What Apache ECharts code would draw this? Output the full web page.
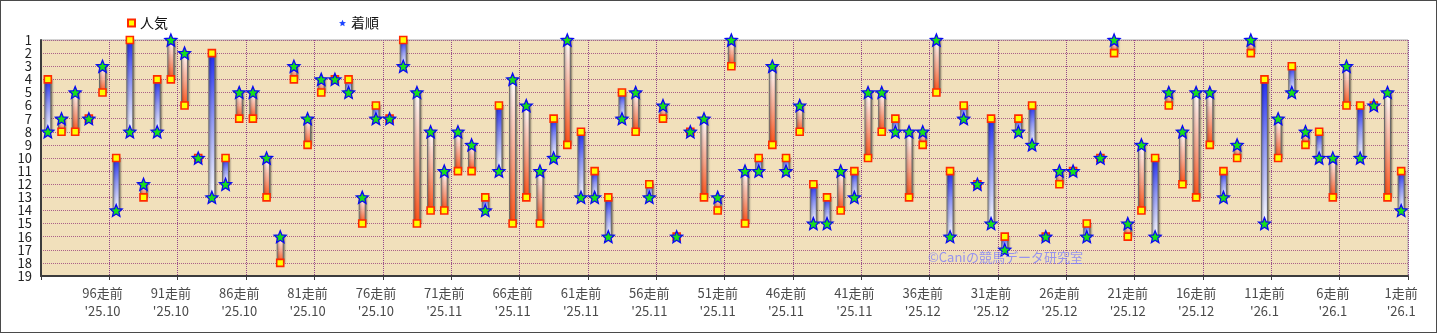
<!DOCTYPE html>
<html>
<head>
<meta charset="utf-8">
<script src="https://cdn.jsdelivr.net/npm/echarts@6/dist/echarts.min.js"></script>
<style>
  html, body { margin: 0; padding: 0; background: #fff; }
  #frame { width: 1437px; height: 333px; box-sizing: border-box; border: 1px solid #4a4a4a; background: #fff; }
  #chart { width: 1435px; height: 331px; }
</style>
</head>
<body>
<div id="frame"><div id="chart"></div></div>
<script>
// Race history: oldest (100走前) on the left, latest (1走前) on the right
const raceCount = 100;
const categories = Array.from({ length: raceCount }, (_, i) => (raceCount - i) + '走前');

// 人気 (popularity rank) per race
const popularity = [
  4, 8, 8, 7, 5, 10, 1, 13, 4, 4,
  6, 10, 2, 10, 7, 7, 13, 18, 4, 9,
  5, 4, 4, 15, 6, 7, 1, 15, 14, 14,
  11, 11, 13, 6, 15, 13, 15, 7, 9, 8,
  11, 13, 5, 8, 12, 7, 16, 8, 13, 14,
  3, 15, 10, 9, 10, 8, 12, 13, 14, 11,
  10, 8, 7, 13, 9, 5, 11, 6, 12, 7,
  16, 7, 6, 16, 12, 11, 15, 10, 2, 16,
  14, 10, 6, 12, 13, 9, 11, 10, 2, 4,
  10, 3, 9, 8, 13, 6, 6, 6, 13, 11
];

// 着順 (finishing position) per race
const finish = [
  8, 7, 5, 7, 3, 14, 8, 12, 8, 1,
  2, 10, 13, 12, 5, 5, 10, 16, 3, 7,
  4, 4, 5, 13, 7, 7, 3, 5, 8, 11,
  8, 9, 14, 11, 4, 6, 11, 10, 1, 13,
  13, 16, 7, 5, 13, 6, 16, 8, 7, 13,
  1, 11, 11, 3, 11, 6, 15, 15, 11, 13,
  5, 5, 8, 8, 8, 1, 16, 7, 12, 15,
  17, 8, 9, 16, 11, 11, 16, 10, 1, 15,
  9, 16, 5, 8, 5, 5, 13, 9, 1, 15,
  7, 5, 8, 10, 10, 3, 10, 6, 5, 14
];

// Month shown under every fifth race label (96走前, 91走前, ... 1走前)
const tickMonths = [
  "'25.10", "'25.10", "'25.10", "'25.10", "'25.10",
  "'25.11", "'25.11", "'25.11", "'25.11", "'25.11",
  "'25.11", "'25.11", "'25.12", "'25.12", "'25.12",
  "'25.12", "'25.12", "'26.1", "'26.1", "'26.1"
];

const FONT = '"Noto Sans CJK JP", "Noto Sans", sans-serif';

// five-pointed star symbol
function starPath() {
  let d = '';
  for (let k = 0; k < 10; k++) {
    const r = k % 2 ? 0.45 : 1;
    const a = -Math.PI / 2 + k * Math.PI / 5;
    d += (k ? 'L' : 'M') + (r * Math.cos(a)).toFixed(4) + ' ' + (r * Math.sin(a)).toFixed(4) + ' ';
  }
  return 'path://' + d + 'Z';
}
const STAR = starPath();

const chart = echarts.init(document.getElementById('chart'), null, { renderer: 'canvas' });

const barData = categories.map((c, i) => [i, popularity[i], finish[i]]);

chart.setOption({
  animation: false,
  textStyle: { fontFamily: FONT },
  legend: [
    {
      data: ['人気'], left: 121, top: 10, itemWidth: 7, itemHeight: 7,
      textStyle: { fontSize: 14, color: '#111', fontFamily: FONT }
    },
    {
      data: [{ name: '着順', icon: STAR, itemStyle: { color: '#1e46ff', borderWidth: 0 } }],
      left: 333, top: 10, itemWidth: 7, itemHeight: 7,
      textStyle: { fontSize: 14, color: '#111', fontFamily: FONT }
    }
  ],
  grid: {
    left: 40, right: 28, top: 39, bottom: 56,
    show: true, backgroundColor: '#f1e0bb', borderColor: '#a8a8a8', borderWidth: 1
  },
  xAxis: {
    type: 'category',
    data: categories,
    boundaryGap: true,
    axisLine: { lineStyle: { color: '#3c3c3c', width: 2 } },
    axisTick: { show: true, interval: (i) => i % 5 === 0, length: 4, lineStyle: { color: '#3c3c3c' } },
    axisLabel: {
      interval: (i) => i % 5 === 4,
      formatter: (v, i) => v + '\n' + tickMonths[Math.floor(i / 5)],
      color: '#4a4a4a', fontSize: 13, lineHeight: 18, margin: 8, fontFamily: FONT
    },
    splitLine: { show: true, interval: (i) => i % 5 === 0, lineStyle: { color: '#93468a', type: 'dotted', width: 1 } }
  },
  yAxis: {
    type: 'value', min: 1, max: 19, interval: 1, inverse: true,
    axisLine: { show: true, lineStyle: { color: '#3c3c3c', width: 2 } },
    axisTick: { show: false },
    axisLabel: { color: '#222', fontSize: 13, margin: 9, fontFamily: FONT },
    splitLine: { show: true, lineStyle: { color: '#ab6088', type: 'dotted', width: 1 } }
  },
  graphic: [
    {
      type: 'text', left: 927, top: 250, z: 100,
      style: { text: '©Caniの競馬データ研究室', fill: 'rgba(120,120,255,0.75)', font: '13px "Noto Sans CJK JP"' }
    }
  ],
  series: [
    {
      // connector between popularity and finish
      type: 'custom',
      name: '差',
      data: barData,
      encode: { x: 0, y: 1 },
      z: 2,
      silent: true,
      renderItem(params, api) {
        const i = api.value(0), p = api.value(1), f = api.value(2);
        if (p === f) return null;
        const a = api.coord([i, p]);
        const b = api.coord([i, f]);
        const top = Math.min(a[1], b[1]);
        const h = Math.abs(a[1] - b[1]);
        const w = 6;
        const fill = p < f
          ? new echarts.graphic.LinearGradient(0, 0, 0, 1, [
              { offset: 0, color: '#1f2af2' }, { offset: 0.45, color: '#8f97f6' }, { offset: 1, color: '#ffffff' }])
          : new echarts.graphic.LinearGradient(0, 0, 0, 1, [
              { offset: 0, color: '#ffffff' }, { offset: 0.55, color: '#f9a58a' }, { offset: 1, color: '#ff4f14' }]);
        return {
          type: 'rect',
          shape: { x: a[0] - w / 2, y: top, width: w, height: h },
          style: {
            fill, stroke: '#6a6a6a', lineWidth: 1,
            shadowBlur: 2, shadowOffsetX: 1, shadowOffsetY: 0, shadowColor: 'rgba(0,0,0,0.45)'
          }
        };
      }
    },
    {
      type: 'scatter',
      name: '人気',
      data: categories.map((c, i) => [i, popularity[i]]),
      symbol: 'rect',
      symbolSize: 7,
      z: 3,
      itemStyle: { color: '#ffff00', borderColor: '#ff2a00', borderWidth: 1.6, opacity: 1 }
    },
    {
      type: 'scatter',
      name: '着順',
      data: categories.map((c, i) => [i, finish[i]]),
      symbol: STAR,
      symbolSize: 12,
      z: 4,
      itemStyle: { color: '#16e01a', borderColor: '#0a0af0', borderWidth: 1.3, opacity: 1 }
    }
  ]
});
</script>
</body>
</html>
